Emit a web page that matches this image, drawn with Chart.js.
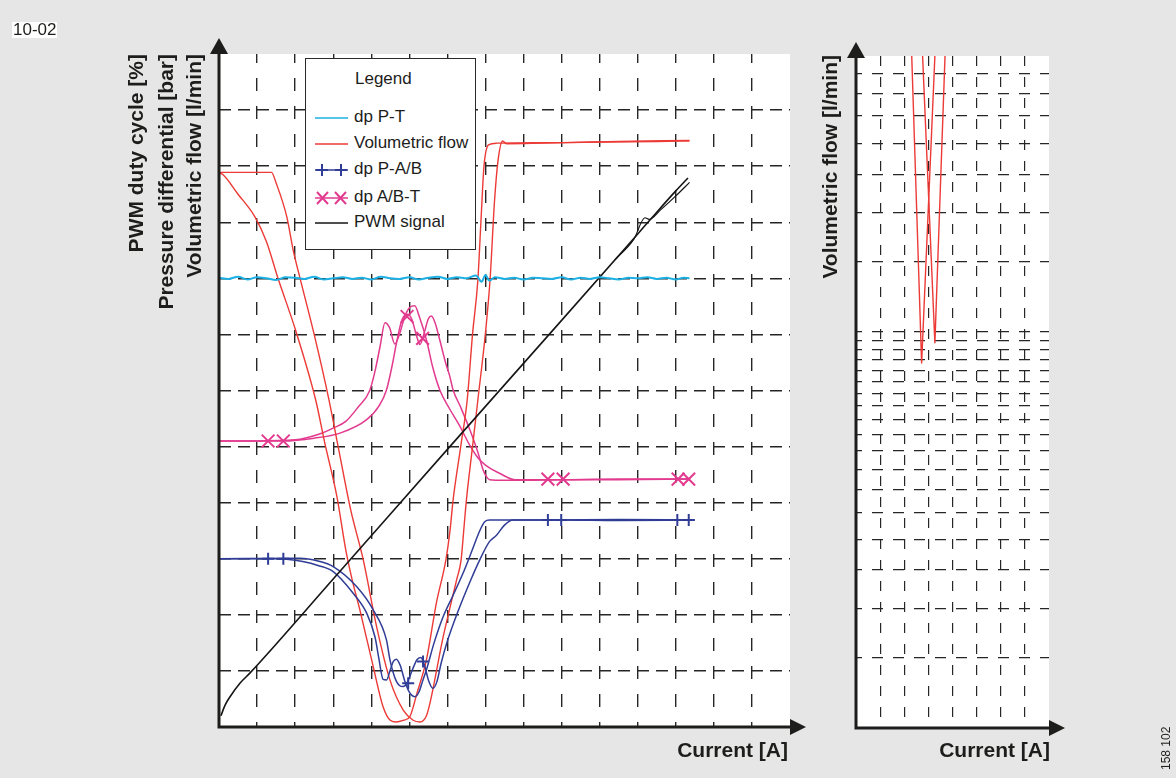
<!DOCTYPE html>
<html>
<head>
<meta charset="utf-8">
<script src="https://cdn.jsdelivr.net/npm/chart.js@4.4.1/dist/chart.umd.min.js"></script>
<style>
  html, body { margin: 0; padding: 0; background: #e6e6e6; }
  #page { position: relative; width: 1176px; height: 778px; overflow: hidden; background: #e6e6e6;
          font-family: "Liberation Sans", Arial, Helvetica, sans-serif; color: #1d1d1b; }
  canvas { position: absolute; left: 0; top: 0; }
  .vt { position: absolute; transform-origin: 0 0; transform: rotate(-90deg); white-space: nowrap;
        font-weight: bold; font-size: 21px; line-height: 24px; height: 24px; width: 320px; text-align: right; }
  .xt { position: absolute; width: 200px; text-align: right; font-weight: bold; font-size: 21px; line-height: 24px; }
  #legend { position: absolute; left: 305px; top: 58px; width: 171px; height: 192px; box-sizing: border-box;
            border: 1.5px solid #2a2a2a; background: #fff; }
  .lt { position: absolute; font-size: 17px; line-height: 20px; white-space: nowrap; }
  .ls { position: absolute; }
  #tag { position: absolute; left: 12px; top: 22px; background: #fff; font-size: 17px; line-height: 16px; padding: 0 1px; }
  #code { position: absolute; left: 1159px; top: 770px; transform-origin: 0 0; transform: rotate(-90deg);
          font-size: 12px; line-height: 14px; white-space: nowrap; }
</style>
</head>
<body>
<div id="page">
  <canvas id="mainChart" width="1176" height="778"></canvas>
  <canvas id="zoomChart" width="1176" height="778"></canvas>

  <div id="tag">10-02</div>

  <div class="vt" style="left:124px; top:374px;">PWM duty cycle [%]</div>
  <div class="vt" style="left:154px; top:374px;">Pressure differential [bar]</div>
  <div class="vt" style="left:182px; top:374px;">Volumetric flow [l/min]</div>
  <div class="vt" style="left:818px; top:375px;">Volumetric flow [l/min]</div>

  <div class="xt" style="left:588px; top:738px;">Current [A]</div>
  <div class="xt" style="left:850px; top:738px;">Current [A]</div>

  <div id="code">158 102</div>

  <div id="legend"></div>
  <div class="lt" style="left:355px; top:69px;">Legend</div>

  <svg class="ls" style="left:314px; top:108px;" width="36" height="18"><line x1="1" y1="10" x2="34" y2="10" stroke="#1cb0e4" stroke-width="1.5"/></svg>
  <div class="lt" style="left:354px; top:107px;">dp P-T</div>

  <svg class="ls" style="left:314px; top:134px;" width="36" height="18"><line x1="1" y1="10" x2="34" y2="10" stroke="#ec3a36" stroke-width="1.5"/></svg>
  <div class="lt" style="left:354px; top:133px;">Volumetric flow</div>

  <svg class="ls" style="left:314px; top:160px;" width="36" height="18"><line x1="1" y1="10" x2="34" y2="10" stroke="#2f3d96" stroke-width="1.5"/><path d="M8 4 V16 M2 10 H14 M27 4 V16 M21 10 H33" stroke="#2f3d96" stroke-width="2" fill="none"/></svg>
  <div class="lt" style="left:354px; top:159px;">dp P-A/B</div>

  <svg class="ls" style="left:314px; top:188px;" width="36" height="18"><line x1="1" y1="10" x2="34" y2="10" stroke="#e23a8f" stroke-width="1.5"/><path d="M3 4 L14 16 M14 4 L3 16 M21 4 L32 16 M32 4 L21 16" stroke="#e23a8f" stroke-width="2" fill="none"/></svg>
  <div class="lt" style="left:354px; top:187px;">dp A/B-T</div>

  <svg class="ls" style="left:314px; top:213px;" width="36" height="18"><line x1="1" y1="10" x2="34" y2="10" stroke="#151515" stroke-width="1.5"/></svg>
  <div class="lt" style="left:354px; top:212px;">PWM signal</div>
</div>

<script>
// grid positions (current in divisions, left chart and right chart)
const currentTicks = [1, 2, 3, 4, 5, 6, 7, 8, 9, 10, 11, 12, 13, 14];
const levelTicks = [1, 2, 3, 4, 5, 6, 7, 8, 9, 10, 11];
const zoomCurrentTicks = [1, 2, 3, 4, 5, 6, 7];
const zoomFlowTicks = [1.26, 2.13, 2.82, 3.37, 3.84, 4.26, 4.62, 4.95, 5.24, 5.5, 5.75, 5.98, 6.18, 6.38,
                       6.58, 6.76, 6.92, 7.08, 8.32, 9.20, 9.89, 10.44, 10.93, 11.33, 11.69];

// dp P-T
const dpPTx = [0, 0.25, 0.5, 0.75, 1, 1.25, 1.5, 1.75, 2, 2.25, 2.5, 2.75, 3, 3.25, 3.5, 3.75, 4, 4.25, 4.5, 4.75,
               5, 5.25, 5.5, 5.75, 6, 6.25, 6.5, 6.75, 6.9, 7.0, 7.1, 7.25, 7.5, 7.75, 8, 8.25, 8.5, 8.75, 9, 9.25,
               9.5, 9.75, 10, 10.25, 10.5, 10.75, 11, 11.25, 11.5, 11.75, 12, 12.2, 12.36];
const dpPTy = [8.01, 7.99, 8.03, 7.98, 8.02, 8.00, 7.97, 8.02, 8.01, 7.99, 8.03, 7.98, 8.00, 8.02, 7.99, 8.01, 7.98,
               8.03, 8.00, 7.99, 8.02, 7.98, 8.01, 8.03, 7.99, 8.02, 8.00, 8.05, 7.94, 8.06, 7.96, 8.02, 7.99, 8.01,
               7.98, 8.01, 8.00, 7.99, 8.02, 7.98, 8.01, 7.99, 8.02, 8.00, 7.98, 8.01, 8.00, 8.02, 7.99, 8.01, 7.98,
               8.01, 8.00];

// Volumetric flow, two sweeps
const flowAx = [0, 1.38, 1.50, 1.78, 1.95, 2.13, 2.50, 2.89, 3.13, 3.46, 3.79, 4.14, 4.49, 4.84, 5.10, 5.28, 5.45,
                5.54, 5.89, 6.24, 6.36, 6.43, 6.50, 6.66, 6.80, 7.00, 7.12, 7.24, 7.33, 7.45, 7.55, 8.50, 10.0, 11.5, 12.36];
const flowAy = [9.89, 9.89, 9.70, 9.10, 8.50, 8.00, 7.00, 5.83, 5.00, 3.87, 2.98, 1.79, 0.84, 0.30, 0.12, 0.09, 0.20,
                0.42, 1.61, 2.62, 2.98, 3.51, 4.05, 5.00, 5.83, 7.03, 7.97, 9.40, 10.10, 10.45, 10.40, 10.41, 10.43, 10.44, 10.45];
const flowBx = [0, 0.10, 0.50, 0.94, 1.25, 1.55, 2.00, 2.54, 2.78, 3.10, 3.33, 3.50, 3.70, 4.05, 4.31, 4.50, 4.66,
                4.85, 5.01, 5.20, 5.45, 5.71, 5.96, 6.07, 6.15, 6.35, 6.52, 6.66, 6.80, 6.88, 6.96, 7.08, 7.30, 9.00, 10.5, 12.36];
const flowBy = [9.88, 9.85, 9.50, 9.10, 8.65, 8.00, 7.10, 5.83, 5.06, 4.10, 3.16, 2.62, 2.09, 1.08, 0.36, 0.12, 0.09,
                0.12, 0.18, 0.60, 1.20, 2.21, 2.98, 3.51, 4.05, 5.00, 5.83, 7.00, 7.97, 9.00, 9.99, 10.38, 10.41, 10.42, 10.44, 10.46];

// dp P-A/B
const dpPABAx = [0, 1.5, 1.78, 2.2, 2.6, 3.00, 3.53, 3.88, 4.10, 4.20, 4.31, 4.40, 4.50, 4.58, 4.66, 4.76, 4.88, 5.00,
                 5.14, 5.25, 5.35, 5.45, 5.65, 5.89, 6.15, 6.41, 6.65, 6.85, 6.98, 7.11, 7.5, 8.64, 10.5, 12.49];
const dpPABAy = [3.00, 3.00, 2.99, 2.95, 2.88, 2.77, 2.38, 2.03, 1.60, 1.22, 0.85, 0.84, 1.02, 1.17, 1.21, 1.10, 0.82,
                 0.62, 0.54, 0.62, 0.82, 1.02, 1.50, 1.97, 2.35, 2.74, 3.15, 3.50, 3.66, 3.69, 3.69, 3.69, 3.70, 3.69];
const dpPABBx = [0, 2.13, 2.6, 3.00, 3.62, 4.05, 4.40, 4.49, 4.62, 4.74, 4.84, 4.95, 5.08, 5.20, 5.30, 5.40, 5.50,
                 5.62, 5.72, 5.84, 5.98, 6.30, 6.60, 6.85, 7.10, 7.29, 7.50, 7.72, 8.99, 10.5, 12.49];
const dpPABBy = [3.00, 3.01, 2.96, 2.86, 2.50, 2.09, 1.55, 1.20, 0.88, 0.74, 0.72, 0.80, 1.02, 1.20, 1.24, 1.10, 0.84,
                 0.69, 0.80, 1.15, 1.49, 2.10, 2.60, 2.98, 3.30, 3.42, 3.60, 3.69, 3.69, 3.68, 3.69];
const dpPABMarkX = [1.29, 1.69, 4.97, 5.36, 8.64, 8.99, 12.04, 12.34];
const dpPABMarkY = [3.00, 3.00, 0.78, 1.17, 3.69, 3.69, 3.69, 3.69];

// dp A/B-T
const dpABTAx = [0, 1.0, 2.0, 2.62, 3.00, 3.33, 3.65, 3.96, 4.10, 4.23, 4.36, 4.48, 4.62, 4.75, 4.88, 5.01, 5.14,
                 5.27, 5.45, 5.62, 5.80, 6.06, 6.33, 6.59, 6.80, 7.00, 7.38, 7.77, 8.64, 10.5, 12.36];
const dpABTAy = [5.10, 5.10, 5.12, 5.22, 5.33, 5.45, 5.70, 6.00, 6.35, 6.78, 7.21, 7.12, 6.83, 7.02, 7.32, 7.48, 7.51,
                 7.30, 6.90, 6.40, 6.01, 5.67, 5.36, 5.02, 4.80, 4.67, 4.52, 4.41, 4.41, 4.41, 4.42];
const dpABTBx = [0, 1.69, 2.5, 3.18, 3.88, 4.20, 4.40, 4.55, 4.66, 4.80, 4.94, 5.06, 5.18, 5.28, 5.40, 5.50, 5.58,
                 5.68, 5.80, 5.95, 6.06, 6.15, 6.35, 6.59, 6.80, 6.94, 7.04, 7.11, 7.5, 9.04, 10.5, 12.36];
const dpABTBy = [5.10, 5.10, 5.15, 5.24, 5.48, 5.72, 6.01, 6.45, 6.84, 7.25, 7.36, 7.28, 7.00, 6.82, 7.05, 7.28, 7.33,
                 7.20, 6.90, 6.50, 6.26, 6.01, 5.70, 5.30, 4.90, 4.58, 4.45, 4.41, 4.40, 4.41, 4.42, 4.42];
const dpABTMarkX = [1.29, 1.69, 4.94, 5.35, 8.64, 9.04, 12.06, 12.34];
const dpABTMarkY = [5.10, 5.10, 7.32, 6.93, 4.42, 4.42, 4.42, 4.42];

// PWM signal
const pwmAx = [0.05, 0.16, 0.29, 0.55, 0.81, 3.0, 6.0, 9.0, 10.96, 11.5, 12.0, 12.32];
const pwmAy = [0.20, 0.39, 0.54, 0.78, 0.96, 2.64, 4.95, 7.25, 8.76, 9.18, 9.56, 9.79];
const pwmBx = [10.4, 10.9, 11.19, 11.3, 11.6, 12.0, 12.36];
const pwmBy = [8.33, 8.70, 9.08, 9.05, 9.22, 9.47, 9.71];

// right panel: zoomed flow minimum
const zoomFlowAx = [2.31, 2.72, 3.27];
const zoomFlowAy = [12, 6.51, 12];
const zoomFlowBx = [2.76, 3.27, 3.69];
const zoomFlowBy = [12, 6.87, 12];

const RED = '#ec3a36', BLUE = '#2f3d96', MAGENTA = '#e23a8f', CYAN = '#1cb0e4', BLACK = '#151515';

const zip = (xs, ys) => xs.map((x, i) => ({ x: x, y: ys[i] }));

const plotFrame = {
    id: 'plotFrame',
    beforeDraw(chart) {
        const { ctx, chartArea: a } = chart;
        ctx.save();
        ctx.fillStyle = '#ffffff';
        ctx.fillRect(a.left, a.top, a.right - a.left, a.bottom - a.top);
        ctx.restore();
    },
    afterDraw(chart, args, opts) {
        const { ctx, chartArea: a } = chart;
        ctx.save();
        ctx.strokeStyle = '#1d1d1b';
        ctx.fillStyle = '#1d1d1b';
        ctx.lineWidth = 3;
        ctx.beginPath();
        ctx.moveTo(a.left, opts.yTip + 12);
        ctx.lineTo(a.left, a.bottom);
        ctx.lineTo(opts.xTip - 12, a.bottom);
        ctx.stroke();
        // arrow heads
        ctx.beginPath();
        ctx.moveTo(a.left, opts.yTip);
        ctx.lineTo(a.left - 9, opts.yTip + 16);
        ctx.lineTo(a.left + 9, opts.yTip + 16);
        ctx.closePath();
        ctx.fill();
        ctx.beginPath();
        ctx.moveTo(opts.xTip, a.bottom);
        ctx.lineTo(opts.xTip - 16, a.bottom - 8);
        ctx.lineTo(opts.xTip - 16, a.bottom + 8);
        ctx.closePath();
        ctx.fill();
        ctx.restore();
    }
};

function curve(xs, ys, color, width) {
    return {
        data: zip(xs, ys),
        borderColor: color,
        borderWidth: width,
        pointRadius: 0,
        fill: false,
        cubicInterpolationMode: 'monotone'
    };
}

function markers(xs, ys, color, style, radius) {
    return {
        data: zip(xs, ys),
        showLine: false,
        borderColor: color,
        backgroundColor: color,
        pointStyle: style,
        pointRadius: radius,
        pointBorderWidth: 2
    };
}

function gridAxis(min, max, ticks, dash, offset, width) {
    return {
        type: 'linear',
        min: min,
        max: max,
        afterBuildTicks: s => { s.ticks = ticks.map(v => ({ value: v })); },
        ticks: { display: false },
        grid: { color: '#262626', lineWidth: width, drawTicks: false },
        border: { display: false, dash: dash, dashOffset: offset }
    };
}

new Chart(document.getElementById('mainChart'), {
    type: 'line',
    data: {
        datasets: [
            curve(dpPTx, dpPTy, CYAN, 2),
            curve(pwmAx, pwmAy, BLACK, 1.6),
            curve(pwmBx, pwmBy, BLACK, 1.2),
            curve(dpPABAx, dpPABAy, BLUE, 1.5),
            curve(dpPABBx, dpPABBy, BLUE, 1.5),
            markers(dpPABMarkX, dpPABMarkY, BLUE, 'cross', 6),
            curve(flowAx, flowAy, RED, 1.4),
            curve(flowBx, flowBy, RED, 1.4),
            curve(dpABTAx, dpABTAy, MAGENTA, 1.5),
            curve(dpABTBx, dpABTBy, MAGENTA, 1.5),
            markers(dpABTMarkX, dpABTMarkY, MAGENTA, 'crossRot', 9)
        ]
    },
    options: {
        responsive: false,
        animation: false,
        events: [],
        layout: { padding: { left: 219, top: 54, right: 386, bottom: 51 } },
        plugins: {
            legend: { display: false },
            tooltip: { enabled: false },
            plotFrame: { yTip: 38, xTip: 806 }
        },
        scales: {
            x: gridAxis(0, 15, currentTicks, [13, 15], 4, 1.4),
            y: gridAxis(0, 12, levelTicks, [12, 7], 0, 1.4)
        }
    },
    plugins: [plotFrame]
});

new Chart(document.getElementById('zoomChart'), {
    type: 'line',
    data: {
        datasets: [
            { data: zip(zoomFlowAx, zoomFlowAy), borderColor: RED, borderWidth: 1.4, pointRadius: 0, tension: 0 },
            { data: zip(zoomFlowBx, zoomFlowBy), borderColor: RED, borderWidth: 1.4, pointRadius: 0, tension: 0 }
        ]
    },
    options: {
        responsive: false,
        animation: false,
        events: [],
        layout: { padding: { left: 856, top: 56, right: 127, bottom: 50 } },
        plugins: {
            legend: { display: false },
            tooltip: { enabled: false },
            plotFrame: { yTip: 42, xTip: 1065 }
        },
        scales: {
            x: gridAxis(0, 8, zoomCurrentTicks, [10, 11], 0, 1.2),
            y: gridAxis(0, 12, zoomFlowTicks, [11, 10], 5, 1.2)
        }
    },
    plugins: [plotFrame]
});
</script>
</body>
</html>
